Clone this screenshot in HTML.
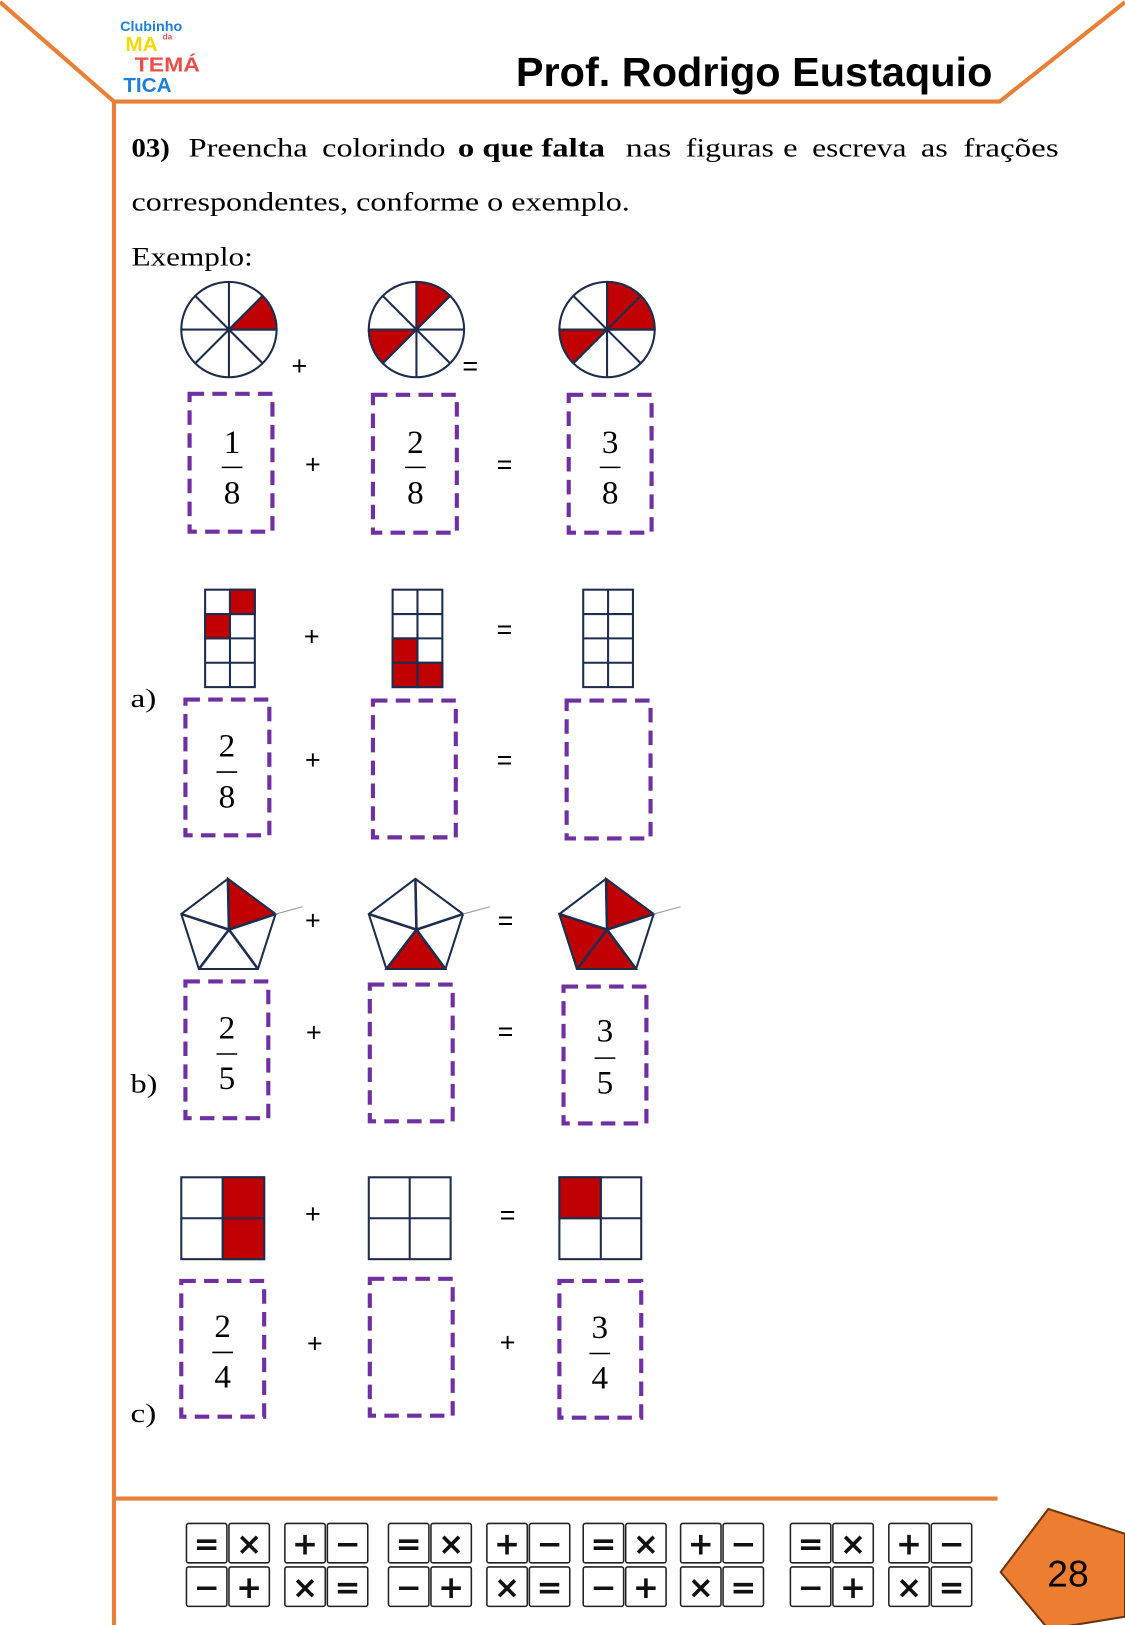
<!DOCTYPE html>
<html><head><meta charset="utf-8"><style>
html,body{margin:0;padding:0;background:#fff;}
svg{display:block;}
.t{font-family:"Liberation Serif",serif;font-size:25px;fill:#000;}
.f{font-family:"Liberation Serif",serif;font-size:32px;fill:#000;text-anchor:middle;}
.op{font-family:"Liberation Sans",sans-serif;font-size:26px;fill:#000;text-anchor:middle;}
.box{fill:none;stroke:#7030a0;stroke-width:4;stroke-dasharray:14,8;}
.g{fill:#fff;stroke:#1f2d4d;stroke-width:2;}
.r{fill:#c00000;stroke:#1f2d4d;stroke-width:2;}
.tile{fill:#fff;stroke:#222;stroke-width:1.5;}
.sym{font-family:"DejaVu Sans",sans-serif;font-weight:bold;font-size:30px;text-anchor:middle;fill:#111;}
</style></head><body>
<svg width="1125" height="1625" viewBox="0 0 1086 1568" preserveAspectRatio="none" xmlns="http://www.w3.org/2000/svg">
<g stroke="#e8803a" stroke-width="4" fill="none">
<polyline points="0,2 110,98 965,98 1086,2"/>
<line x1="110" y1="98" x2="110" y2="1568"/>
<line x1="110" y1="1446" x2="963" y2="1446"/>
</g>
<g font-family="Liberation Sans,sans-serif" font-weight="bold">
<text x="116" y="30" font-size="13" fill="#1e7fd6" textLength="60" lengthAdjust="spacingAndGlyphs">Clubinho</text>
<text x="121" y="49" font-size="20" fill="#f2d900">MA</text>
<text x="157" y="38" font-size="8" fill="#e05050">da</text>
<text x="130" y="69" font-size="20" fill="#e8504a" textLength="63" lengthAdjust="spacingAndGlyphs">TEMÁ</text>
<text x="119" y="89" font-size="20" fill="#1e7fd6">TICA</text>
</g>
<text x="498" y="83" textLength="460" lengthAdjust="spacingAndGlyphs" font-family="Liberation Sans,sans-serif" font-weight="bold" font-size="39" fill="#000">Prof. Rodrigo Eustaquio</text>
<g class="t">
<text x="127" y="151" font-weight="bold" textLength="37" lengthAdjust="spacingAndGlyphs">03)</text>
<text x="182" y="151" textLength="115" lengthAdjust="spacingAndGlyphs">Preencha</text>
<text x="311" y="151" textLength="119" lengthAdjust="spacingAndGlyphs">colorindo</text>
<text x="442" y="151" font-weight="bold" textLength="142" lengthAdjust="spacingAndGlyphs">o que falta</text>
<text x="604" y="151" textLength="44" lengthAdjust="spacingAndGlyphs">nas</text>
<text x="662" y="151" textLength="85" lengthAdjust="spacingAndGlyphs">figuras</text>
<text x="756" y="151" textLength="14" lengthAdjust="spacingAndGlyphs">e</text>
<text x="784" y="151" textLength="91" lengthAdjust="spacingAndGlyphs">escreva</text>
<text x="889" y="151" textLength="26" lengthAdjust="spacingAndGlyphs">as</text>
<text x="930" y="151" textLength="92" lengthAdjust="spacingAndGlyphs">frações</text>
<text x="127" y="203" textLength="481" lengthAdjust="spacingAndGlyphs">correspondentes, conforme o exemplo.</text>
<text x="127" y="256" textLength="117" lengthAdjust="spacingAndGlyphs">Exemplo:</text>
</g>
<g>
<circle class="g" cx="221" cy="318" r="46"/>
<path class="r" d="M221,318 L253.5,285.5 A46,46 0 0,1 267,318 Z"/>
<circle class="g" cx="402" cy="318" r="46"/>
<path class="r" d="M402,318 L402,272 A46,46 0 0,1 434.5,285.5 Z"/>
<path class="r" d="M402,318 L356,318 A46,46 0 0,0 369.5,350.5 Z"/>
<circle class="g" cx="586" cy="318" r="46"/>
<path class="r" d="M586,318 L586,272 A46,46 0 0,1 632,318 Z"/>
<path class="r" d="M586,318 L540,318 A46,46 0 0,0 553.5,350.5 Z"/>
<g stroke="#1f2d4d" stroke-width="2">
<path d="M221,272v92M175,318h92M188.5,285.5l65,65M253.5,285.5l-65,65"/>
<path d="M402,272v92M356,318h92M369.5,285.5l65,65M434.5,285.5l-65,65"/>
<path d="M586,272v92M540,318h92M553.5,285.5l65,65M618.5,285.5l-65,65"/>
</g>
</g>
<text x="289" y="362" class="op" font-size="18">+</text>
<text x="454" y="362" class="op" font-size="18">=</text>
<rect class="box" x="183" y="380" width="80" height="133"/>
<rect class="box" x="360" y="381" width="81" height="133"/>
<rect class="box" x="549" y="381" width="80" height="133"/>
<g class="f"><text x="224" y="437">1</text><text x="224" y="486">8</text><text x="401" y="437">2</text><text x="401" y="486">8</text><text x="589" y="437">3</text><text x="589" y="486">8</text></g>
<g stroke="#000" stroke-width="1.5"><path d="M214,451h20M391,451h20M579,451h20"/></g>
<text class="op" x="302" y="457">+</text><text class="op" x="487" y="457">=</text>
<g>
<rect class="g" x="198" y="569" width="48" height="94"/>
<rect class="r" x="222" y="569" width="24" height="23.5"/>
<rect class="r" x="198" y="592.5" width="24" height="23.5"/>
<rect class="g" x="379" y="569" width="48" height="94"/>
<rect class="r" x="379" y="616" width="24" height="47"/>
<rect class="r" x="403" y="639.5" width="24" height="23.5"/>
<rect class="g" x="563" y="569" width="48" height="94"/>
<g stroke="#1f2d4d" stroke-width="2"><path d="M222,569v94M198,592.5h48M198,616h48M198,639.5h48M403,569v94M379,592.5h48M379,616h48M379,639.5h48M587,569v94M563,592.5h48M563,616h48M563,639.5h48"/></g>
</g>
<text class="op" x="301" y="623">+</text><text class="op" x="487" y="616">=</text>
<text class="t" x="126" y="682" textLength="25" lengthAdjust="spacingAndGlyphs">a)</text>
<rect class="box" x="179" y="675" width="81" height="131"/>
<rect class="box" x="360" y="676" width="80" height="132"/>
<rect class="box" x="547" y="676" width="81" height="133"/>
<g class="f"><text x="219" y="730">2</text><text x="219" y="779">8</text></g>
<path d="M209,745h20" stroke="#000" stroke-width="1.5"/>
<text class="op" x="302" y="742">+</text><text class="op" x="487" y="742">=</text>
<g>
<polygon class="g" points="220,848 266,882 249,935 192,935 175,882"/>
<polygon class="r" points="220,848 266,882 221,897"/>
<path d="M221,897L220,848M221,897L266,882M221,897L249,935M221,897L192,935M221,897L175,882" stroke="#1f2d4d" stroke-width="2.5"/>
<line x1="266" y1="882" x2="292" y2="875" stroke="#999" stroke-width="1"/>
<polygon class="g" points="401,848 447,882 430,935 373,935 356,882"/>
<polygon class="r" points="402,897 430,935 373,935"/>
<path d="M402,897L401,848M402,897L447,882M402,897L430,935M402,897L373,935M402,897L356,882" stroke="#1f2d4d" stroke-width="2.5"/>
<line x1="447" y1="882" x2="473" y2="875" stroke="#999" stroke-width="1"/>
<polygon class="g" points="585,848 631,882 614,935 557,935 540,882"/>
<polygon class="r" points="585,848 631,882 586,897"/>
<polygon class="r" points="586,897 614,935 557,935 540,882"/>
<path d="M586,897L585,848M586,897L631,882M586,897L614,935M586,897L557,935M586,897L540,882" stroke="#1f2d4d" stroke-width="2.5"/>
<line x1="631" y1="882" x2="657" y2="875" stroke="#999" stroke-width="1"/>
</g>
<text class="op" x="302" y="897">+</text><text class="op" x="488" y="897">=</text>
<rect class="box" x="179" y="947" width="80" height="132"/>
<rect class="box" x="357" y="950" width="80" height="132"/>
<rect class="box" x="544" y="952" width="80" height="132"/>
<g class="f"><text x="219" y="1002">2</text><text x="219" y="1051">5</text><text x="584" y="1005">3</text><text x="584" y="1055">5</text></g>
<path d="M209,1017h20M574,1021h20" stroke="#000" stroke-width="1.5"/>
<text class="op" x="303" y="1005">+</text><text class="op" x="488" y="1004">=</text>
<text class="t" x="126" y="1054" textLength="26" lengthAdjust="spacingAndGlyphs">b)</text>
<g>
<rect class="g" x="175" y="1136" width="80" height="79"/>
<rect class="r" x="215" y="1136" width="40" height="79"/>
<rect class="g" x="356" y="1136" width="79" height="79"/>
<rect class="g" x="540" y="1136" width="79" height="79"/>
<rect class="r" x="540" y="1136" width="40" height="39.5"/>
<path d="M215,1136v79M175,1175.5h80M395.5,1136v79M356,1175.5h79M580,1136v79M540,1175.5h79" stroke="#1f2d4d" stroke-width="2"/>
</g>
<text class="op" x="302" y="1180">+</text><text class="op" x="490" y="1181">=</text>
<rect class="box" x="175" y="1236" width="80" height="131"/>
<rect class="box" x="357" y="1234" width="80" height="132"/>
<rect class="box" x="540" y="1236" width="79" height="132"/>
<g class="f"><text x="215" y="1290">2</text><text x="215" y="1339">4</text><text x="579" y="1291">3</text><text x="579" y="1340">4</text></g>
<path d="M205,1305h20M569,1306h20" stroke="#000" stroke-width="1.5"/>
<text class="op" x="304" y="1305">+</text><text class="op" x="490" y="1304">+</text>
<text class="t" x="126" y="1372" textLength="25" lengthAdjust="spacingAndGlyphs">c)</text>
<g>
<g transform="translate(180,0)">
<rect class="tile" x="0" y="1470" width="39" height="38" rx="2"/><rect class="tile" x="41" y="1470" width="39" height="38" rx="2"/>
<rect class="tile" x="0" y="1512" width="39" height="38" rx="2"/><rect class="tile" x="41" y="1512" width="39" height="38" rx="2"/>
<text class="sym" x="19.5" y="1500">=</text><text class="sym" x="60.5" y="1500">×</text><text class="sym" x="19.5" y="1542">−</text><text class="sym" x="60.5" y="1542">+</text>
</g>
<g transform="translate(275,0)">
<rect class="tile" x="0" y="1470" width="39" height="38" rx="2"/><rect class="tile" x="41" y="1470" width="39" height="38" rx="2"/>
<rect class="tile" x="0" y="1512" width="39" height="38" rx="2"/><rect class="tile" x="41" y="1512" width="39" height="38" rx="2"/>
<text class="sym" x="19.5" y="1500">+</text><text class="sym" x="60.5" y="1500">−</text><text class="sym" x="19.5" y="1542">×</text><text class="sym" x="60.5" y="1542">=</text>
</g>
<g transform="translate(375,0)">
<rect class="tile" x="0" y="1470" width="39" height="38" rx="2"/><rect class="tile" x="41" y="1470" width="39" height="38" rx="2"/>
<rect class="tile" x="0" y="1512" width="39" height="38" rx="2"/><rect class="tile" x="41" y="1512" width="39" height="38" rx="2"/>
<text class="sym" x="19.5" y="1500">=</text><text class="sym" x="60.5" y="1500">×</text><text class="sym" x="19.5" y="1542">−</text><text class="sym" x="60.5" y="1542">+</text>
</g>
<g transform="translate(470,0)">
<rect class="tile" x="0" y="1470" width="39" height="38" rx="2"/><rect class="tile" x="41" y="1470" width="39" height="38" rx="2"/>
<rect class="tile" x="0" y="1512" width="39" height="38" rx="2"/><rect class="tile" x="41" y="1512" width="39" height="38" rx="2"/>
<text class="sym" x="19.5" y="1500">+</text><text class="sym" x="60.5" y="1500">−</text><text class="sym" x="19.5" y="1542">×</text><text class="sym" x="60.5" y="1542">=</text>
</g>
<g transform="translate(563,0)">
<rect class="tile" x="0" y="1470" width="39" height="38" rx="2"/><rect class="tile" x="41" y="1470" width="39" height="38" rx="2"/>
<rect class="tile" x="0" y="1512" width="39" height="38" rx="2"/><rect class="tile" x="41" y="1512" width="39" height="38" rx="2"/>
<text class="sym" x="19.5" y="1500">=</text><text class="sym" x="60.5" y="1500">×</text><text class="sym" x="19.5" y="1542">−</text><text class="sym" x="60.5" y="1542">+</text>
</g>
<g transform="translate(657,0)">
<rect class="tile" x="0" y="1470" width="39" height="38" rx="2"/><rect class="tile" x="41" y="1470" width="39" height="38" rx="2"/>
<rect class="tile" x="0" y="1512" width="39" height="38" rx="2"/><rect class="tile" x="41" y="1512" width="39" height="38" rx="2"/>
<text class="sym" x="19.5" y="1500">+</text><text class="sym" x="60.5" y="1500">−</text><text class="sym" x="19.5" y="1542">×</text><text class="sym" x="60.5" y="1542">=</text>
</g>
<g transform="translate(763,0)">
<rect class="tile" x="0" y="1470" width="39" height="38" rx="2"/><rect class="tile" x="41" y="1470" width="39" height="38" rx="2"/>
<rect class="tile" x="0" y="1512" width="39" height="38" rx="2"/><rect class="tile" x="41" y="1512" width="39" height="38" rx="2"/>
<text class="sym" x="19.5" y="1500">=</text><text class="sym" x="60.5" y="1500">×</text><text class="sym" x="19.5" y="1542">−</text><text class="sym" x="60.5" y="1542">+</text>
</g>
<g transform="translate(858,0)">
<rect class="tile" x="0" y="1470" width="39" height="38" rx="2"/><rect class="tile" x="41" y="1470" width="39" height="38" rx="2"/>
<rect class="tile" x="0" y="1512" width="39" height="38" rx="2"/><rect class="tile" x="41" y="1512" width="39" height="38" rx="2"/>
<text class="sym" x="19.5" y="1500">+</text><text class="sym" x="60.5" y="1500">−</text><text class="sym" x="19.5" y="1542">×</text><text class="sym" x="60.5" y="1542">=</text>
</g>
</g>
<polygon points="1012,1456 1086,1480 1086,1560 1012,1572 966,1517" fill="#ed7d31" stroke="#6b3510" stroke-width="2"/>
<text x="1031" y="1531" text-anchor="middle" font-family="Liberation Sans,sans-serif" font-size="36" fill="#000">28</text>
</svg>
</body></html>
